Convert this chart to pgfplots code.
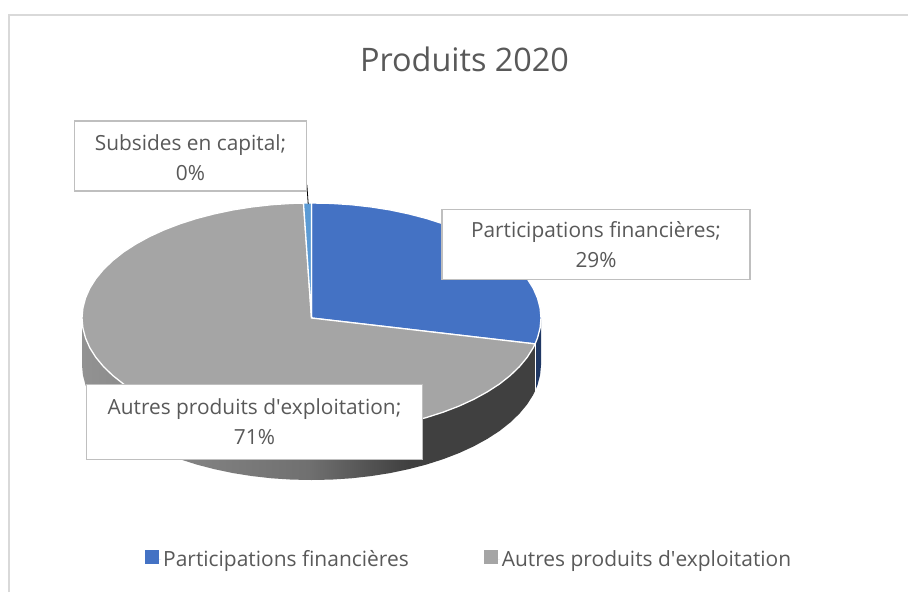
\documentclass[border=0pt]{standalone}
\usepackage{pgfplots}
\usepackage{fontspec}
\setmainfont{Open Sans}
\pgfplotsset{compat=1.18}
\definecolor{PieBlue}{HTML}{4472C4}
\definecolor{PieGray}{HTML}{A5A5A5}
\definecolor{PieSky}{HTML}{5B9BD5}
\definecolor{PieNavy}{HTML}{203864}
\definecolor{TextGray}{HTML}{595959}
\definecolor{BoxGray}{HTML}{BFBFBF}
\definecolor{FrameGray}{HTML}{D9D9D9}
\definecolor{WallA}{HTML}{929292}
\definecolor{WallB}{HTML}{707070}
\definecolor{WallC}{HTML}{404040}
% front wall gets lighter to the left
\pgfdeclarehorizontalshading{wallshade}{100bp}{color(0bp)=(WallA);color(25bp)=(WallA);color(50bp)=(WallB);color(61bp)=(WallC);color(100bp)=(WallC)}
\begin{document}
\begin{tikzpicture}
\begin{axis}[
  scale only axis,
  width=908pt,
  height=592pt,
  xmin=0, xmax=908,
  ymin=0, ymax=592,
  y dir=reverse,
  axis lines=none,
  legend columns=2,
  legend style={at={(axis cs:145,559)},anchor=west,draw=none,fill=none,
    font=\fontsize{20.95}{25}\selectfont,text=TextGray,
    /tikz/every even column/.append style={column sep=73pt},
    inner xsep=0pt,inner ysep=0pt},
  legend image code/.code={\fill[#1,draw=none] (0pt,-5pt) rectangle (14pt,9pt);\path[draw=none] (0pt,0pt) -- (16pt,0pt);},
]
% page, sets the size of the picture
\addplot[forget plot,fill=white,draw=none] coordinates {(0,0)(908,0)(908,592)(0,592)} --cycle;
% frame
\addplot[forget plot,draw=FrameGray,line width=1.8pt] coordinates {(8.7,592) (8.7,14.7) (908,14.7)};

% wall, gray slice
\addplot[forget plot,draw=none,shading=wallshade] coordinates {
(535.1,343.9)(533.2,347.8)(527.2,357.3)(519.5,366.6)(510.25,375.5)(499.5,384.0)(487.3,391.9)(473.8,399.3)(459.0,406.1)(443.1,412.2)(426.25,417.6)(408.5,422.2)(390.0,426.1)(370.9,429.1)(351.35,431.3)(331.5,432.6)(311.5,433)(291.5,432.6)(271.65,431.3)(252.1,429.1)(233.0,426.1)(214.5,422.2)(196.75,417.6)(179.9,412.2)(164.0,406.1)(149.2,399.3)(135.7,391.9)(123.5,384.0)(112.75,375.5)(103.5,366.6)(95.8,357.3)(89.8,347.8)(85.5,338.0)(82.9,328.0)(82.0,318)
(82.0,365)(82.9,375.0)(85.5,385.0)(89.8,394.8)(95.8,404.3)(103.5,413.6)(112.75,422.5)(123.5,431.0)(135.7,438.9)(149.2,446.3)(164.0,453.1)(179.9,459.2)(196.75,464.6)(214.5,469.2)(233.0,473.1)(252.1,476.1)(271.65,478.3)(291.5,479.6)(311.5,480)(331.5,479.6)(351.35,478.3)(370.9,476.1)(390.0,473.1)(408.5,469.2)(426.25,464.6)(443.1,459.2)(459.0,453.1)(473.8,446.3)(487.3,438.9)(499.5,431.0)(510.25,422.5)(519.5,413.6)(527.2,404.3)(533.2,394.8)(535.1,390.9)
} --cycle;
% wall, blue slice
\addplot[forget plot,fill=PieNavy,draw=none] coordinates {
(541.0,318)(540.1,328.0)(537.5,338.0)(535.1,343.9)(535.1,390.9)(537.5,385.0)(540.1,375.0)(541.0,365)
} --cycle;
% white between the two wall parts
\addplot[forget plot,draw=white,line width=1pt] coordinates {(535.6,344)(535.6,391)};

% top face
\addplot[fill=PieBlue,draw=white,line width=1.3pt] coordinates {
(311.5,318)(311.5,203)(331.5,203.4)(351.35,204.7)(370.9,206.9)(390.0,209.9)(408.5,213.8)(426.25,218.4)(443.1,223.8)(459.0,229.9)(473.8,236.7)(487.3,244.1)(499.5,252.0)(510.25,260.5)(519.5,269.4)(527.2,278.7)(533.2,288.2)(537.5,298.0)(540.1,308.0)(541.0,318)(540.1,328.0)(537.5,338.0)(535.1,343.9)
} --cycle;
\addlegendentry{Participations financières}
\addplot[fill=PieGray,draw=white,line width=1.3pt] coordinates {
(311.5,318)(535.1,343.9)(533.2,347.8)(527.2,357.3)(519.5,366.6)(510.25,375.5)(499.5,384.0)(487.3,391.9)(473.8,399.3)(459.0,406.1)(443.1,412.2)(426.25,417.6)(408.5,422.2)(390.0,426.1)(370.9,429.1)(351.35,431.3)(331.5,432.6)(311.5,433)(291.5,432.6)(271.65,431.3)(252.1,429.1)(233.0,426.1)(214.5,422.2)(196.75,417.6)(179.9,412.2)(164.0,406.1)(149.2,399.3)(135.7,391.9)(123.5,384.0)(112.75,375.5)(103.5,366.6)(95.8,357.3)(89.8,347.8)(85.5,338.0)(82.9,328.0)(82.0,318)(82.9,308.0)(85.5,298.0)(89.8,288.2)(95.8,278.7)(103.5,269.4)(112.75,260.5)(123.5,252.0)(135.7,244.1)(149.2,236.7)(164.0,229.9)(179.9,223.8)(196.75,218.4)(214.5,213.8)(233.0,209.9)(252.1,206.9)(271.65,204.7)(291.5,203.4)(303.5,203.1)
} --cycle;
\addlegendentry{Autres produits d\textquotesingle exploitation}
\addplot[forget plot,fill=PieSky,draw=white,line width=1.3pt] coordinates {(311.5,318)(303.5,203.1)(311.5,203)} --cycle;

% leader line
\addplot[forget plot,draw=black,line width=0.8pt] coordinates {(306.9,185)(308.2,204)};

\node[text=TextGray,font=\fontsize{32.4}{38}\selectfont] at (axis cs:464.5,59) {Produits 2020};
\tikzset{lab/.style={draw=BoxGray,fill=white,line width=1.5pt,text=TextGray,align=center,
  font=\fontsize{20.85}{30}\selectfont,inner sep=0pt}}
\node[lab,minimum width=232pt,minimum height=70pt] at (axis cs:190.5,156) {\rule{0pt}{19.5pt}Subsides en capital;\\0\%};
\node[lab,minimum width=308pt,minimum height=70pt] at (axis cs:596,244.5) {Participations financières;\\29\%};
\node[lab,minimum width=336pt,minimum height=75pt] at (axis cs:254.5,422) {Autres produits d\textquotesingle exploitation;\\71\%};
\end{axis}
\end{tikzpicture}
\end{document}
